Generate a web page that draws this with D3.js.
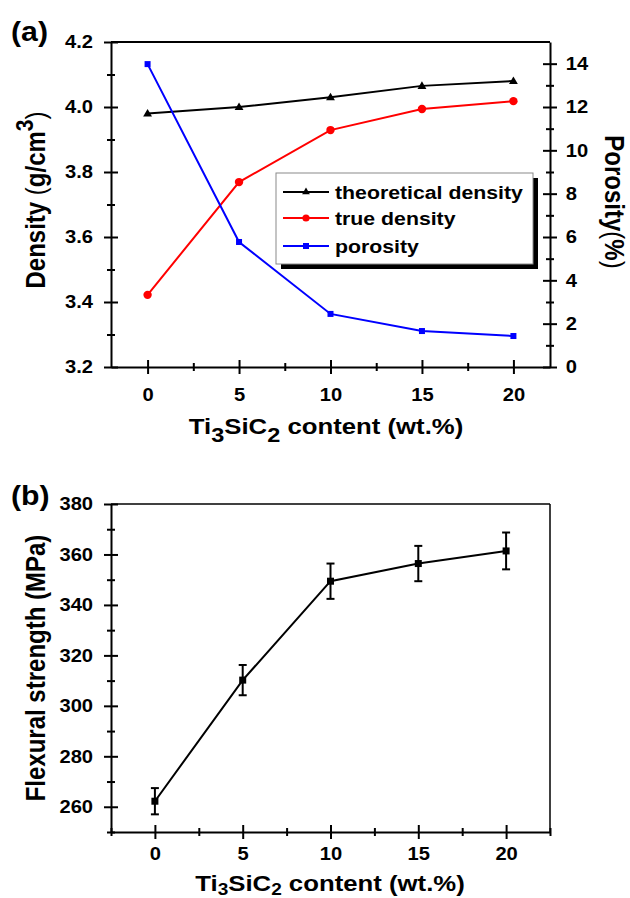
<!DOCTYPE html>
<html><head><meta charset="utf-8">
<script src="https://cdn.jsdelivr.net/npm/d3@7"></script>
<style>body{margin:0;background:#fff}svg{display:block}</style>
</head><body>
<svg id="c" width="630" height="898"></svg>
<script>
// ---- data ----
const content = [0, 5, 10, 15, 20];
const theoreticalDensity = [3.98, 4.00, 4.03, 4.065, 4.08];
const trueDensity = [3.422, 3.769, 3.929, 3.994, 4.018];
const porosity = [13.98, 5.77, 2.45, 1.66, 1.43];
const flexural = [262.2, 310.2, 349.4, 356.4, 361.4];
const flexuralErr = [5.2, 6, 7, 7, 7.3];
const densityTicks = [3.2, 3.4, 3.6, 3.8, 4.0, 4.2];
const densityMinor = [3.3, 3.5, 3.7, 3.9, 4.1];
const porosityTicks = [0, 2, 4, 6, 8, 10, 12, 14];
const porosityMinor = [1, 3, 5, 7, 9, 11, 13];
const xTicks = [0, 5, 10, 15, 20];
const xMinor = [2.5, 7.5, 12.5, 17.5];
const flexTicks = [260, 280, 300, 320, 340, 360, 380];
const flexMinor = [250, 270, 290, 310, 330, 350, 370];
const legendLabels = ["theoretical density", "true density", "porosity"];

const FONT = "'Liberation Sans', Arial, Helvetica, sans-serif";
const SX = 1.12;
const svg = d3.select("#c").attr("font-family", FONT);

// ---- panel (a) scales ----
const xA = d3.scaleLinear().domain([-2, 22]).range([111, 550]);
const yA = d3.scaleLinear().domain([3.2, 4.2]).range([367, 42]);
const yP = d3.scaleLinear().domain([0, 15]).range([367, 42]);
// ---- panel (b) scales ----
const xB = d3.scaleLinear().domain([-2.5, 22.5]).range([111, 550]);
const yB = d3.scaleLinear().domain([250, 380]).range([832, 504]);

function styleAxis(g, labels) {
  g.attr("font-family", FONT).attr("font-size", 18).attr("font-weight", "bold");
  g.select(".domain").attr("stroke", "#000").attr("stroke-width", 2);
  g.selectAll(".tick line").attr("stroke", "#000").attr("stroke-width", 2);
  if (labels) g.selectAll(".tick text").attr("fill", "#000").attr("transform", `scale(${SX},1)`);
  else g.selectAll(".tick text").remove();
}
function axisSet(axisFn, scale, ticks, minor, pos, pad, fmt) {
  // outward major ticks with labels
  const g = svg.append("g").attr("transform", pos);
  g.call(axisFn(scale).tickValues(ticks).tickSizeInner(7).tickSizeOuter(0).tickPadding(pad).tickFormat(fmt));
  styleAxis(g, true);
  // inward major ticks
  const gi = svg.append("g").attr("transform", pos);
  gi.call(axisFn(scale).tickValues(ticks).tickSizeInner(-7).tickSizeOuter(0).tickFormat(""));
  styleAxis(gi, false); gi.select(".domain").remove();
  // minor ticks both sides
  [4, -4].forEach(s => {
    const gm = svg.append("g").attr("transform", pos);
    gm.call(axisFn(scale).tickValues(minor).tickSizeInner(s).tickSizeOuter(0).tickFormat(""));
    styleAxis(gm, false); gm.select(".domain").remove();
  });
}

// ===== Panel (a) =====
// top frame
svg.append("line").attr("x1", 111).attr("x2", 550).attr("y1", 42).attr("y2", 42)
  .attr("stroke", "#000").attr("stroke-width", 2);
axisSet(d3.axisBottom, xA, xTicks, xMinor, "translate(0,367)", 14, d3.format("d"));
axisSet(d3.axisLeft, yA, densityTicks, densityMinor, "translate(111,0)", 9, d3.format(".1f"));
axisSet(d3.axisRight, yP, porosityTicks, porosityMinor, "translate(550,0)", 7, d3.format("d"));

const lineTheo = d3.line().x((d, i) => xA(content[i])).y(d => yA(d));
const lineP = d3.line().x((d, i) => xA(content[i])).y(d => yP(d));
const triangle = d3.symbol().type(d3.symbolTriangle);

svg.append("path").datum(theoreticalDensity).attr("d", lineTheo)
  .attr("fill", "none").attr("stroke", "#000").attr("stroke-width", 2);
svg.append("path").datum(trueDensity).attr("d", lineTheo)
  .attr("fill", "none").attr("stroke", "#ff0000").attr("stroke-width", 2);
svg.append("path").datum(porosity).attr("d", lineP)
  .attr("fill", "none").attr("stroke", "#0000ff").attr("stroke-width", 2);

svg.append("g").selectAll("path").data(theoreticalDensity).join("path")
  .attr("d", triangle.size(34)())
  .attr("transform", (d, i) => `translate(${xA(content[i])},${yA(d) + 0.5})`)
  .attr("fill", "#000");
svg.append("g").selectAll("circle").data(trueDensity).join("circle")
  .attr("cx", (d, i) => xA(content[i])).attr("cy", d => yA(d)).attr("r", 4.2)
  .attr("fill", "#ff0000");
svg.append("g").selectAll("rect").data(porosity).join("rect")
  .attr("x", (d, i) => xA(content[i]) - 3).attr("y", d => yP(d) - 3)
  .attr("width", 6).attr("height", 6).attr("fill", "#0000ff");

// legend
const lg = svg.append("g");
lg.append("rect").attr("x", 281).attr("y", 178).attr("width", 257).attr("height", 91).attr("fill", "#000");
lg.append("rect").attr("x", 276).attr("y", 173).attr("width", 257).attr("height", 91)
  .attr("fill", "#fff").attr("stroke", "#8a8a8a").attr("stroke-width", 1);
const legColors = ["#000", "#ff0000", "#0000ff"];
const legY = [192, 218, 246];
legendLabels.forEach((lab, i) => {
  const y = legY[i];
  lg.append("line").attr("x1", 283).attr("x2", 329).attr("y1", y).attr("y2", y)
    .attr("stroke", legColors[i]).attr("stroke-width", 2);
  if (i === 0) lg.append("path").attr("d", triangle.size(26)()).attr("transform", `translate(306,${y})`).attr("fill", "#000");
  if (i === 1) lg.append("circle").attr("cx", 306).attr("cy", y).attr("r", 3.6).attr("fill", "#ff0000");
  if (i === 2) lg.append("rect").attr("x", 303).attr("y", y - 3).attr("width", 6).attr("height", 6).attr("fill", "#0000ff");
  lg.append("text").attr("transform", `translate(335,${y + 6.5}) scale(${SX},1)`)
    .attr("font-size", 19).attr("font-weight", "bold").attr("fill", "#000").text(lab);
});

// titles (a)
svg.append("text").attr("transform", `translate(11,41) scale(${SX},1)`)
  .attr("font-size", 27).attr("font-weight", "bold").text("(a)");
const ytA = svg.append("text").attr("transform", `translate(45,200) scale(${SX},1) rotate(-90)`)
  .attr("text-anchor", "middle").attr("font-size", 24).attr("font-weight", "bold");
ytA.append("tspan").text("Density ");
ytA.append("tspan").attr("font-weight", "normal").text("(");
ytA.append("tspan").text("g/cm");
ytA.append("tspan").attr("dy", -11).attr("font-size", 21).text("3");
ytA.append("tspan").attr("dy", 11).attr("font-weight", "normal").text(")");

const ytP = svg.append("text").attr("transform", `translate(605,202) scale(${SX},1) rotate(90)`)
  .attr("text-anchor", "middle").attr("font-size", 24).attr("font-weight", "bold");
ytP.append("tspan").text("Porosity");
ytP.append("tspan").attr("font-weight", "normal").text("(");
ytP.append("tspan").text("%");
ytP.append("tspan").attr("font-weight", "normal").text(")");

function xTitle(x, y, subSize, subDy) {
  const t = svg.append("text").attr("transform", `translate(${x},${y}) scale(${SX},1)`)
    .attr("text-anchor", "middle").attr("font-size", 23).attr("font-weight", "bold");
  t.append("tspan").text("Ti");
  t.append("tspan").attr("font-size", subSize).attr("dy", subDy).text("3");
  t.append("tspan").attr("dy", -subDy).text("SiC");
  t.append("tspan").attr("font-size", subSize).attr("dy", subDy).text("2");
  t.append("tspan").attr("dy", -subDy).text(" content (wt.%)");
}
xTitle(326, 434, 21, 8);

// ===== Panel (b) =====
svg.append("line").attr("x1", 111).attr("x2", 550).attr("y1", 504).attr("y2", 504)
  .attr("stroke", "#000").attr("stroke-width", 1.5);
svg.append("line").attr("x1", 550).attr("x2", 550).attr("y1", 504).attr("y2", 832)
  .attr("stroke", "#000").attr("stroke-width", 1.5);
axisSet(d3.axisBottom, xB, xTicks, xMinor.concat([-2.5, 22.5]), "translate(0,832)", 8, d3.format("d"));
axisSet(d3.axisLeft, yB, flexTicks, flexMinor, "translate(111,0)", 9, d3.format("d"));

const lineB = d3.line().x((d, i) => xB(content[i])).y(d => yB(d));
svg.append("path").datum(flexural).attr("d", lineB)
  .attr("fill", "none").attr("stroke", "#000").attr("stroke-width", 2);
const eb = svg.append("g").attr("stroke", "#000").attr("stroke-width", 2);
flexural.forEach((v, i) => {
  const x = xB(content[i]);
  const y1 = yB(v + flexuralErr[i]), y2 = yB(v - flexuralErr[i]);
  eb.append("line").attr("x1", x).attr("x2", x).attr("y1", y1).attr("y2", y2);
  eb.append("line").attr("x1", x - 4).attr("x2", x + 4).attr("y1", y1).attr("y2", y1);
  eb.append("line").attr("x1", x - 4).attr("x2", x + 4).attr("y1", y2).attr("y2", y2);
});
svg.append("g").selectAll("rect").data(flexural).join("rect")
  .attr("x", (d, i) => xB(content[i]) - 3.5).attr("y", d => yB(d) - 3.5)
  .attr("width", 7).attr("height", 7).attr("fill", "#000");

svg.append("text").attr("transform", `translate(11,505) scale(${SX},1)`)
  .attr("font-size", 27).attr("font-weight", "bold").text("(b)");
svg.append("text").attr("transform", `translate(45,668) scale(${SX},1) rotate(-90)`)
  .attr("text-anchor", "middle").attr("font-size", 24).attr("font-weight", "bold")
  .text("Flexural strength (MPa)");
xTitle(330, 891, 17, 4);
</script>
</body></html>
